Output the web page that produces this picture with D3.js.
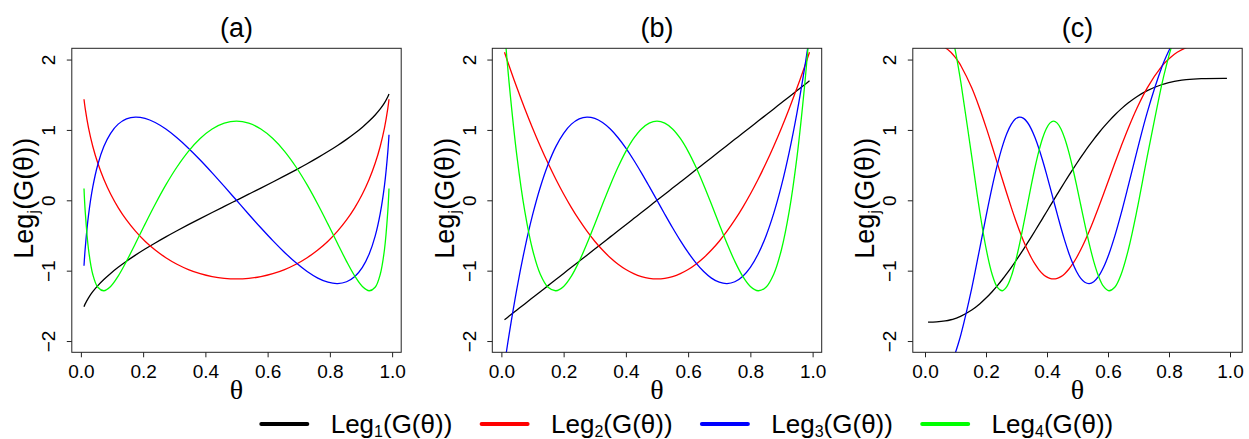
<!DOCTYPE html>
<html><head><meta charset="utf-8">
<script src="https://cdn.jsdelivr.net/npm/d3@7"></script>
<style>body{margin:0;background:#fff}svg{display:block}</style>
</head><body>
<svg id="chart" width="1249" height="439"></svg>
<script>
// ---------- data ----------
const panelTitles = ["(a)", "(b)", "(c)"];
const xTicks = [0, 0.2, 0.4, 0.6, 0.8, 1.0];
const xTickLabels = ["0.0", "0.2", "0.4", "0.6", "0.8", "1.0"];
const yTicks = [-2, -1, 0, 1, 2];
const yTickLabels = ["\u22122", "\u22121", "0", "1", "2"];
const yLimits = [-2, 2];
const xLimitsA = [0.01, 0.99];
const xLimitsB = [0.01, 0.99];
const xLimitsC = [0, 1];
const seriesIndex = ["1", "2", "3", "4"];
const seriesColors = ["#000000", "#ff0000", "#0000ff", "#00ff00"];

// panel (a)
const thetaA = [0.01, 0.0138, 0.0245, 0.0381, 0.0545, 0.0737, 0.0955, 0.1198, 0.1464, 0.1753, 0.2061, 0.2388, 0.2730, 0.3087, 0.3455, 0.3833, 0.4218, 0.4608, 0.5, 0.5392, 0.5782, 0.6167, 0.6545, 0.6913, 0.7270, 0.7612, 0.7939, 0.8247, 0.8536, 0.8802, 0.9045, 0.9263, 0.9455, 0.9619, 0.9755, 0.9862, 0.99];
const leg1A = [-1.5112, -1.4722, -1.3856, -1.2990, -1.2124, -1.1258, -1.0392, -0.9526, -0.8660, -0.7794, -0.6928, -0.6062, -0.5196, -0.4330, -0.3464, -0.2598, -0.1732, -0.0866, 0, 0.0866, 0.1732, 0.2598, 0.3464, 0.4330, 0.5196, 0.6062, 0.6928, 0.7794, 0.8660, 0.9526, 1.0392, 1.1258, 1.2124, 1.2990, 1.3856, 1.4722, 1.5112];
const leg2A = [1.4353, 1.3053, 1.0286, 0.7686, 0.5255, 0.2991, 0.0894, -0.1034, -0.2795, -0.4388, -0.5814, -0.7071, -0.8161, -0.9084, -0.9838, -1.0425, -1.0845, -1.1096, -1.1180, -1.1096, -1.0845, -1.0425, -0.9838, -0.9084, -0.8161, -0.7071, -0.5814, -0.4388, -0.2795, -0.1034, 0.0894, 0.2991, 0.5255, 0.7686, 1.0286, 1.3053, 1.4353];
const leg3A = [-0.9307, -0.6887, -0.2117, 0.1860, 0.5093, 0.7632, 0.9525, 1.0823, 1.1575, 1.1832, 1.1642, 1.1054, 1.0120, 0.8888, 0.7408, 0.5730, 0.3903, 0.1976, 0, -0.1976, -0.3903, -0.5730, -0.7408, -0.8888, -1.0120, -1.1054, -1.1642, -1.1832, -1.1575, -1.0823, -0.9525, -0.7632, -0.5093, -0.1860, 0.2117, 0.6887, 0.9307];
const leg4A = [0.1670, -0.1518, -0.6990, -1.0503, -1.2362, -1.2852, -1.2240, -1.0771, -0.8672, -0.6149, -0.3390, -0.0562, 0.2188, 0.4731, 0.6960, 0.8785, 1.0138, 1.0970, 1.1250, 1.0970, 1.0138, 0.8785, 0.6960, 0.4731, 0.2188, -0.0562, -0.3390, -0.6149, -0.8672, -1.0771, -1.2240, -1.2852, -1.2362, -1.0503, -0.6990, -0.1518, 0.1670];

// panel (b)
const thetaB = [0.01, 0.025, 0.05, 0.075, 0.1, 0.125, 0.15, 0.175, 0.2, 0.225, 0.25, 0.275, 0.3, 0.325, 0.35, 0.375, 0.4, 0.425, 0.45, 0.475, 0.5, 0.525, 0.55, 0.575, 0.6, 0.625, 0.65, 0.675, 0.7, 0.725, 0.75, 0.775, 0.8, 0.825, 0.85, 0.875, 0.9, 0.925, 0.95, 0.975, 0.99];
const leg1B = [-1.6974, -1.6455, -1.5588, -1.4722, -1.3856, -1.2990, -1.2124, -1.1258, -1.0392, -0.9526, -0.8660, -0.7794, -0.6928, -0.6062, -0.5196, -0.4330, -0.3464, -0.2598, -0.1732, -0.0866, 0, 0.0866, 0.1732, 0.2598, 0.3464, 0.4330, 0.5196, 0.6062, 0.6928, 0.7794, 0.8660, 0.9526, 1.0392, 1.1258, 1.2124, 1.2990, 1.3856, 1.4722, 1.5588, 1.6455, 1.6974];
const leg2B = [2.1032, 1.9090, 1.5987, 1.3053, 1.0286, 0.7686, 0.5255, 0.2991, 0.0894, -0.1034, -0.2795, -0.4388, -0.5814, -0.7071, -0.8161, -0.9084, -0.9838, -1.0425, -1.0845, -1.1096, -1.1180, -1.1096, -1.0845, -1.0425, -0.9838, -0.9084, -0.8161, -0.7071, -0.5814, -0.4388, -0.2795, -0.1034, 0.0894, 0.2991, 0.5255, 0.7686, 1.0286, 1.3053, 1.5987, 1.9090, 2.1032];
const leg3B = [-2.3362, -1.9008, -1.2501, -0.6887, -0.2117, 0.1860, 0.5093, 0.7632, 0.9525, 1.0823, 1.1575, 1.1832, 1.1642, 1.1054, 1.0120, 0.8888, 0.7408, 0.5730, 0.3903, 0.1976, 0, -0.1976, -0.3903, -0.5730, -0.7408, -0.8888, -1.0120, -1.1054, -1.1642, -1.1832, -1.1575, -1.0823, -0.9525, -0.7632, -0.5093, -0.1860, 0.2117, 0.6887, 1.2501, 1.9008, 2.3362];
const leg4B = [2.4266, 1.6623, 0.6238, -0.1518, -0.6990, -1.0503, -1.2362, -1.2852, -1.2240, -1.0771, -0.8672, -0.6149, -0.3390, -0.0562, 0.2188, 0.4731, 0.6960, 0.8785, 1.0138, 1.0970, 1.1250, 1.0970, 1.0138, 0.8785, 0.6960, 0.4731, 0.2188, -0.0562, -0.3390, -0.6149, -0.8672, -1.0771, -1.2240, -1.2852, -1.2362, -1.0503, -0.6990, -0.1518, 0.6238, 1.6623, 2.4266];

// panel (c)
const thetaC = [0.01, 0.0379, 0.0663, 0.0848, 0.0980, 0.1088, 0.1181, 0.1532, 0.1792, 0.2009, 0.2200, 0.2374, 0.2535, 0.2687, 0.2831, 0.2969, 0.3103, 0.3233, 0.3361, 0.3486, 0.3609, 0.3731, 0.3852, 0.3973, 0.4093, 0.4214, 0.4336, 0.4458, 0.4582, 0.4708, 0.4836, 0.4967, 0.5101, 0.5239, 0.5383, 0.5532, 0.5689, 0.5854, 0.6031, 0.6222, 0.6432, 0.6668, 0.6944, 0.7287, 0.7772, 0.7907, 0.8067, 0.8269, 0.8564, 0.906, 0.99];
const leg1C = [-1.7321, -1.7286, -1.7147, -1.6974, -1.6801, -1.6628, -1.6455, -1.5588, -1.4722, -1.3856, -1.2990, -1.2124, -1.1258, -1.0392, -0.9526, -0.8660, -0.7794, -0.6928, -0.6062, -0.5196, -0.4330, -0.3464, -0.2598, -0.1732, -0.0866, 0, 0.0866, 0.1732, 0.2598, 0.3464, 0.4330, 0.5196, 0.6062, 0.6928, 0.7794, 0.8660, 0.9526, 1.0392, 1.1258, 1.2124, 1.2990, 1.3856, 1.4722, 1.5588, 1.6455, 1.6628, 1.6801, 1.6974, 1.7147, 1.7286, 1.7321];
const leg2C = [2.2361, 2.2226, 2.1693, 2.1032, 2.0378, 1.9731, 1.9090, 1.5987, 1.3053, 1.0286, 0.7686, 0.5255, 0.2991, 0.0894, -0.1034, -0.2795, -0.4388, -0.5814, -0.7071, -0.8161, -0.9084, -0.9838, -1.0425, -1.0845, -1.1096, -1.1180, -1.1096, -1.0845, -1.0425, -0.9838, -0.9084, -0.8161, -0.7071, -0.5814, -0.4388, -0.2795, -0.1034, 0.0894, 0.2991, 0.5255, 0.7686, 1.0286, 1.3053, 1.5987, 1.9090, 1.9731, 2.0378, 2.1032, 2.1693, 2.2226, 2.2361];
const leg3C = [-2.6458, -2.6141, -2.4890, -2.3362, -2.1873, -2.0421, -1.9008, -1.2501, -0.6887, -0.2117, 0.1860, 0.5093, 0.7632, 0.9525, 1.0823, 1.1575, 1.1832, 1.1642, 1.1054, 1.0120, 0.8888, 0.7408, 0.5730, 0.3903, 0.1976, 0, -0.1976, -0.3903, -0.5730, -0.7408, -0.8888, -1.0120, -1.1054, -1.1642, -1.1832, -1.1575, -1.0823, -0.9525, -0.7632, -0.5093, -0.1860, 0.2117, 0.6887, 1.2501, 1.9008, 2.0421, 2.1873, 2.3362, 2.4890, 2.6141, 2.6458];
const leg4C = [3.0, 2.9404, 2.7067, 2.4266, 2.1593, 1.9047, 1.6623, 0.6238, -0.1518, -0.6990, -1.0503, -1.2362, -1.2852, -1.2240, -1.0771, -0.8672, -0.6149, -0.3390, -0.0562, 0.2188, 0.4731, 0.6960, 0.8785, 1.0138, 1.0970, 1.1250, 1.0970, 1.0138, 0.8785, 0.6960, 0.4731, 0.2188, -0.0562, -0.3390, -0.6149, -0.8672, -1.0771, -1.2240, -1.2852, -1.2362, -1.0503, -0.6990, -0.1518, 0.6238, 1.6623, 1.9047, 2.1593, 2.4266, 2.7067, 2.9404, 3.0];

// ---------- layout ----------
const FONT = "'Liberation Sans', Arial, Helvetica, sans-serif";
const plotTop = 48.3, plotBottom = 352.3, plotWidth = 329.4;
const plotLefts = [71.8, 492.3, 912.8];

const panels = [
  {title: panelTitles[0], theta: thetaA, series: [leg1A, leg2A, leg3A, leg4A], xlim: xLimitsA},
  {title: panelTitles[1], theta: thetaB, series: [leg1B, leg2B, leg3B, leg4B], xlim: xLimitsB},
  {title: panelTitles[2], theta: thetaC, series: [leg1C, leg2C, leg3C, leg4C], xlim: xLimitsC}
];

const svg = d3.select("#chart");
svg.append("rect").attr("width", 1249).attr("height", 439).attr("fill", "#fff");

const pad = lim => { const r = lim[1] - lim[0]; return [lim[0] - 0.04 * r, lim[1] + 0.04 * r]; };

panels.forEach((p, pi) => {
  const left = plotLefts[pi];
  const g = svg.append("g").attr("transform", `translate(${left},0)`);
  const x = d3.scaleLinear().domain(pad(p.xlim)).range([0, plotWidth]);
  const y = d3.scaleLinear().domain(pad(yLimits)).range([plotBottom, plotTop]);

  const clipId = "clip" + pi;
  svg.append("defs").append("clipPath").attr("id", clipId)
    .append("rect").attr("x", 0).attr("y", plotTop).attr("width", plotWidth).attr("height", plotBottom - plotTop);

  const line = d3.line()
    .x(d => x(d[0])).y(d => y(d[1]))
    .curve(d3.curveCatmullRom.alpha(0.5));

  const cg = g.append("g").attr("clip-path", `url(#${clipId})`);
  p.series.forEach((vals, si) => {
    cg.append("path")
      .datum(p.theta.map((t, i) => [t, vals[i]]))
      .attr("d", line)
      .attr("fill", "none")
      .attr("stroke", seriesColors[si])
      .attr("stroke-width", 1.3);
  });

  // frame
  g.append("rect").attr("x", 0).attr("y", plotTop).attr("width", plotWidth).attr("height", plotBottom - plotTop)
    .attr("fill", "none").attr("stroke", "#222").attr("stroke-width", 1);

  // x axis
  const xa = g.append("g").attr("transform", `translate(0,${plotBottom})`)
    .call(d3.axisBottom(x).tickValues(xTicks).tickFormat((d, i) => xTickLabels[i]).tickSize(5).tickPadding(7.5));
  xa.select(".domain").remove();
  xa.selectAll("line").attr("stroke", "#222");
  xa.selectAll("text").attr("font-family", FONT).attr("font-size", 19).attr("fill", "#000");

  // y axis
  const ya = g.append("g")
    .call(d3.axisLeft(y).tickValues(yTicks).tickFormat((d, i) => yTickLabels[i]).tickSize(5));
  ya.select(".domain").remove();
  ya.selectAll("line").attr("stroke", "#222");
  ya.selectAll("text")
    .attr("font-family", FONT).attr("font-size", 19).attr("fill", "#000")
    .attr("x", 0).attr("y", -16.5).attr("dy", 0)
    .attr("text-anchor", "middle")
    .attr("transform", "rotate(-90)");

  // title
  g.append("text").attr("x", plotWidth / 2).attr("y", 37)
    .attr("text-anchor", "middle").attr("font-family", FONT).attr("font-size", 27)
    .text(p.title);

  // x label (theta)
  g.append("text").attr("x", plotWidth / 2).attr("y", 398.5)
    .attr("text-anchor", "middle").attr("font-family", "'Liberation Serif', 'DejaVu Serif', serif").attr("font-size", 28)
    .text("\u03b8");

  // y label
  const yl = g.append("text")
    .attr("transform", `translate(${-38.5},${(plotTop + plotBottom) / 2 - 2}) rotate(-90)`)
    .attr("text-anchor", "middle").attr("font-family", FONT).attr("font-size", 27);
  yl.append("tspan").text("Leg");
  yl.append("tspan").attr("font-size", 17).attr("dy", 6).text("j");
  yl.append("tspan").attr("dy", -6).text("(G(\u03b8))");
});

// ---------- legend ----------
const legendX0 = 259.3, legendStep = 220.3, legendY = 424;
seriesIndex.forEach((s, i) => {
  const lx = legendX0 + i * legendStep;
  svg.append("line").attr("x1", lx + 2).attr("x2", lx + 48).attr("y1", legendY).attr("y2", legendY)
    .attr("stroke", seriesColors[i]).attr("stroke-width", 4).attr("stroke-linecap", "round");
  const t = svg.append("text").attr("x", lx + 71.4).attr("y", 432.5)
    .attr("font-family", FONT).attr("font-size", 26).attr("fill", "#000");
  t.append("tspan").text("Leg");
  t.append("tspan").attr("font-size", 16).attr("dy", 4.5).text(s);
  t.append("tspan").attr("dy", -4.5).text("(G(\u03b8))");
});
</script>
</body></html>
